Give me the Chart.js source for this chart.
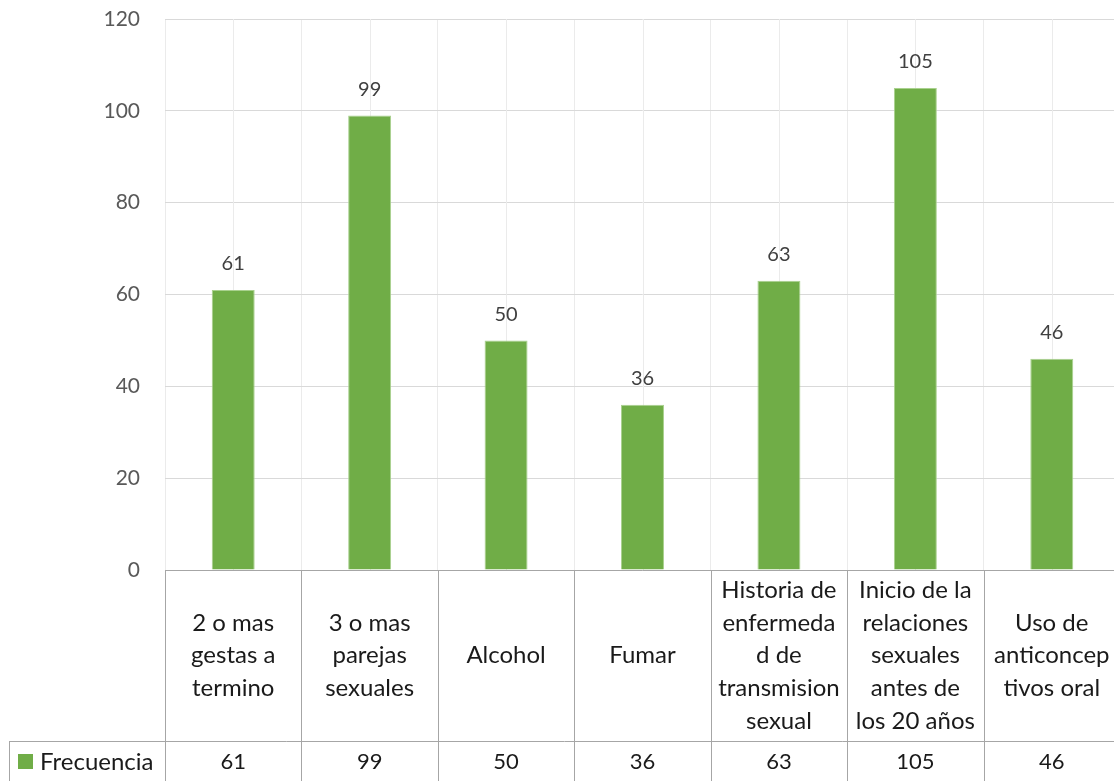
<!DOCTYPE html>
<html>
<head>
<meta charset="utf-8">
<script src="https://cdn.jsdelivr.net/npm/chart.js@4"></script>
<style>
  html, body { margin: 0; padding: 0; background: #fff; overflow: hidden; }
  #wrap { width: 1122px; height: 781px; }
</style>
</head>
<body>
<div id="wrap"><canvas id="riskChart" width="1122" height="781"></canvas></div>
<script>
// categories, already wrapped the way the table cells show them
const categories = [
    ['2 o mas', 'gestas a', 'termino'],
    ['3 o mas', 'parejas', 'sexuales'],
    ['Alcohol'],
    ['Fumar'],
    ['Historia de', 'enfermeda', 'd de', 'transmision', 'sexual'],
    ['Inicio de la', 'relaciones', 'sexuales', 'antes de', 'los 20 años'],
    ['Uso de', 'anticoncep', 'tivos oral']
];
const frecuencia = [61, 99, 50, 36, 63, 105, 46];
const yTicks = [0, 20, 40, 60, 80, 100, 120];
const seriesName = 'Frecuencia';

const GREEN = '#70ad47';
const FONT = 'Lato, "Liberation Sans", sans-serif';

// labels above bars + the excel style data table under the plot
const tablePlugin = {
    id: 'dataTable',
    beforeDatasetsDraw(chart) {
        const { ctx, chartArea, scales: { x } } = chart;
        // light vertical gridlines through the category centers
        ctx.save();
        ctx.strokeStyle = '#ebebeb';
        ctx.lineWidth = 1;
        for (let i = 0; i < categories.length; i++) {
            const px = Math.round(x.getPixelForValue(i)) + 0.5;
            ctx.beginPath();
            ctx.moveTo(px, chartArea.top);
            ctx.lineTo(px, chartArea.bottom);
            ctx.stroke();
        }
        ctx.restore();
    },
    afterDatasetsDraw(chart) {
        const { ctx, chartArea, scales: { x } } = chart;
        const meta = chart.getDatasetMeta(0);

        ctx.save();
        ctx.font = '20px ' + FONT;
        ctx.fillStyle = '#404040';
        ctx.textAlign = 'center';
        ctx.textBaseline = 'middle';
        meta.data.forEach((bar, i) => {
            ctx.fillText(String(frecuencia[i]), bar.x, bar.y - 26);
        });

        // table grid
        const top = chartArea.bottom;
        const rowSplit = 741;
        const bottom = chart.height + 2;
        const half = (x.getPixelForValue(1) - x.getPixelForValue(0)) / 2;
        ctx.strokeStyle = '#a6a6a6';
        ctx.lineWidth = 1;
        ctx.beginPath();
        ctx.moveTo(chartArea.left, top + 0.5);
        ctx.lineTo(chartArea.right, top + 0.5);
        ctx.moveTo(9, rowSplit + 0.5);
        ctx.lineTo(chartArea.right, rowSplit + 0.5);
        ctx.moveTo(9.5, rowSplit);
        ctx.lineTo(9.5, bottom);
        for (let i = 0; i <= categories.length; i++) {
            const px = Math.round(x.getPixelForValue(i) - half) + 0.5;
            ctx.moveTo(px, top);
            ctx.lineTo(px, bottom);
        }
        ctx.stroke();

        // category cells
        ctx.font = '24px ' + FONT;
        ctx.fillStyle = '#1a1a1a';
        const lineH = 32.7;
        const midRow = (top + rowSplit) / 2;
        categories.forEach((lines, i) => {
            const cx = x.getPixelForValue(i);
            const y0 = midRow - (lines.length - 1) * lineH / 2;
            lines.forEach((t, k) => ctx.fillText(t, cx, y0 + k * lineH));
        });

        // value row
        const valRow = 762;
        ctx.font = '22px ' + FONT;
        frecuencia.forEach((v, i) => {
            ctx.fillText(String(v), x.getPixelForValue(i), valRow);
        });

        // legend key
        ctx.fillStyle = GREEN;
        ctx.fillRect(18, 754, 15, 15);
        ctx.fillStyle = '#1a1a1a';
        ctx.textAlign = 'left';
        ctx.font = '24px ' + FONT;
        ctx.fillText(seriesName, 40, valRow);
        ctx.restore();
    }
};

const ctx = document.getElementById('riskChart').getContext('2d');
const riskChart = new Chart(ctx, {
    type: 'bar',
    data: {
        labels: categories,
        datasets: [{
            label: seriesName,
            data: frecuencia,
            backgroundColor: GREEN,
            borderColor: '#a9d18e',
            borderWidth: 1,
            categoryPercentage: 1,
            barPercentage: 0.315
        }]
    },
    options: {
        responsive: false,
        animation: false,
        layout: {
            padding: { left: 0, right: 2, top: 19, bottom: 211 }
        },
        scales: {
            x: {
                ticks: { display: false },
                grid: { color: '#ebebeb', drawTicks: false, offset: true },
                border: { display: false },
                afterFit(scale) { scale.height = 0; }
            },
            y: {
                min: 0,
                max: 120,
                afterBuildTicks(scale) { scale.ticks = yTicks.map(v => ({ value: v })); },
                ticks: {
                    padding: 25,
                    color: '#595959',
                    font: { family: FONT, size: 21 }
                },
                grid: { color: '#d9d9d9', drawTicks: false },
                border: { display: false },
                afterFit(scale) {
                    scale.width = 165;
                    scale.paddingTop = 0;
                    scale.paddingBottom = 0;
                }
            }
        },
        plugins: {
            legend: { display: false },
            tooltip: { enabled: false }
        }
    },
    plugins: [tablePlugin]
});
</script>
</body>
</html>
